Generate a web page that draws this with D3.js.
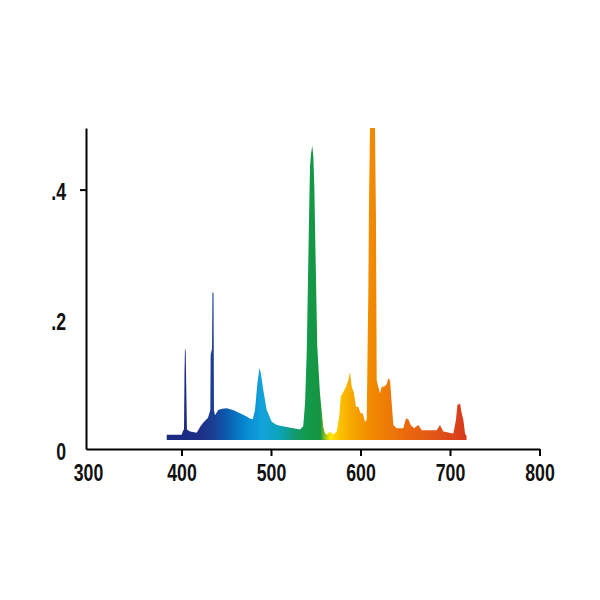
<!DOCTYPE html>
<html>
<head>
<meta charset="utf-8">
<script src="https://cdn.jsdelivr.net/npm/d3@7"></script>
<style>
  body { margin: 0; background: #fff; }
  text { font-family: "Liberation Sans", Arial, Helvetica, sans-serif; font-weight: bold; }
</style>
</head>
<body>
<div id="chart"></div>
<script>
// wavelength (nm) and relative spectral power
var wavelengths = [383.5, 400.2, 401.7, 402.8, 403.4, 403.9, 404.7, 405.3, 406.1, 409.5,
  417, 420.7, 424, 429.6, 432.2, 432.6, 434.1, 434.6, 435.8, 436.3,
  437.4, 441.1, 445.3, 450.5, 457.5, 465.4, 472.8, 476.5, 479.6, 482.1,
  484.7, 486.6, 487.3, 488.8, 491.4, 495.2, 500.8, 506.4, 517.5, 532.4,
  536, 538, 539.9, 541.7, 542.8, 543.6, 544.7, 546.1, 547.3, 548.4,
  549.9, 551.7, 554.7, 558.4, 560.3, 562.2, 565.9, 569.6, 573.4, 576.3,
  577.9, 580.8, 583.8, 586.4, 588.3, 590.2, 592.7, 595, 597.5, 600.2,
  602.5, 605, 606.9, 608.7, 609.5, 610.6, 616.2, 617.3, 618.1, 619.9,
  621.8, 623.7, 626.3, 629.3, 631.1, 633, 634.9, 636.7, 640.4, 647.8,
  650.8, 653.4, 656.1, 659.8, 664.6, 668.4, 685.1, 688.8, 692.5, 703.7,
  706.7, 708.2, 711.2, 713.1, 714.9, 716.8, 718.5];
var intensity = [0.022, 0.022, 0.028, 0.030, 0.120, 0.156, 0.150, 0.096, 0.030, 0.027,
  0.025, 0.034, 0.040, 0.048, 0.060, 0.145, 0.155, 0.242, 0.240, 0.060,
  0.052, 0.060, 0.062, 0.063, 0.060, 0.055, 0.050, 0.047, 0.046, 0.060,
  0.100, 0.120, 0.125, 0.115, 0.091, 0.060, 0.042, 0.037, 0.034, 0.030,
  0.035, 0.070, 0.148, 0.290, 0.380, 0.436, 0.455, 0.468, 0.451, 0.405,
  0.290, 0.158, 0.086, 0.034, 0.025, 0.022, 0.027, 0.022, 0.027, 0.050,
  0.081, 0.088, 0.096, 0.106, 0.119, 0.096, 0.086, 0.065, 0.065, 0.055,
  0.055, 0.042, 0.045, 0.235, 0.380, 0.600, 0.600, 0.350, 0.106, 0.096,
  0.086, 0.096, 0.096, 0.100, 0.109, 0.106, 0.070, 0.037, 0.032, 0.032,
  0.047, 0.046, 0.037, 0.032, 0.037, 0.029, 0.029, 0.037, 0.027, 0.024,
  0.045, 0.068, 0.070, 0.055, 0.045, 0.024, 0.020];
var baseline = 0.014;

// spectrum colours along the wavelength axis
var stopNm = [383, 420, 436, 450, 470, 490, 510, 528, 540, 555, 560, 566, 576, 592, 612, 650, 690, 719];
var stopColors = ["#1b2a7f", "#1e2d86", "#1a3f94", "#0b5aae", "#0687cf", "#14a2dc", "#0ca3b8",
  "#13996a", "#139a4a", "#169440", "#8cc022", "#ffe600", "#fbc400", "#f6a400", "#f18a00",
  "#ea6a0c", "#e0501a", "#d6381c"];

var xTicks = [300, 400, 500, 600, 700, 800];
var yTicks = [0, 0.2, 0.4];
var yLabels = ["0", ".2", ".4"];

var width = 600, height = 600;

var x = d3.scaleLinear().domain([293.3, 800]).range([86, 539.5]);
var y = d3.scaleLinear().domain([0, 0.495]).range([449, 128]).clamp(true);

var svg = d3.select("#chart").append("svg")
  .attr("width", width)
  .attr("height", height);

var grad = svg.append("defs").append("linearGradient")
  .attr("id", "spectrum")
  .attr("gradientUnits", "userSpaceOnUse")
  .attr("x1", x(stopNm[0])).attr("x2", x(stopNm[stopNm.length - 1]))
  .attr("y1", 0).attr("y2", 0);

grad.selectAll("stop")
  .data(stopNm)
  .enter().append("stop")
  .attr("offset", d => (d - stopNm[0]) / (stopNm[stopNm.length - 1] - stopNm[0]))
  .attr("stop-color", (d, i) => stopColors[i]);

var points = wavelengths.map((w, i) => [w, intensity[i]]);

var area = d3.area()
  .x(d => x(d[0]))
  .y0(y(baseline))
  .y1(d => y(d[1]));

svg.append("path")
  .datum(points)
  .attr("d", area)
  .attr("fill", "url(#spectrum)");

// squeeze labels so they look like a narrow bold face
function narrow(sel) {
  sel.style("font-size", "23px").attr("fill", "#111")
    .each(function() {
      var len = this.getComputedTextLength();
      d3.select(this).attr("textLength", len * 0.77).attr("lengthAdjust", "spacingAndGlyphs");
    });
}

// X axis
var xAxis = svg.append("g")
  .attr("transform", "translate(0," + y(0) + ")")
  .call(d3.axisBottom(x).tickValues(xTicks).tickSize(7).tickSizeOuter(0).tickPadding(9));
xAxis.select(".domain").attr("stroke-width", 2);
xAxis.selectAll(".tick line").attr("stroke-width", 2)
  .filter(d => d === 300).remove();
xAxis.selectAll(".tick text").call(narrow)
  .filter(d => d === 300).attr("dx", -4);

// Y axis
var yAxis = svg.append("g")
  .attr("transform", "translate(" + x(293.3) + ",0)")
  .call(d3.axisLeft(y).tickValues(yTicks).tickSize(6).tickSizeOuter(0).tickPadding(14)
    .tickFormat((d, i) => yLabels[i]));
yAxis.select(".domain").attr("stroke-width", 2);
yAxis.selectAll(".tick line").attr("stroke-width", 2)
  .filter(d => d !== 0.4).remove();
yAxis.selectAll(".tick text")
  .attr("dy", "0.45em")
  .call(narrow);
</script>
</body>
</html>
